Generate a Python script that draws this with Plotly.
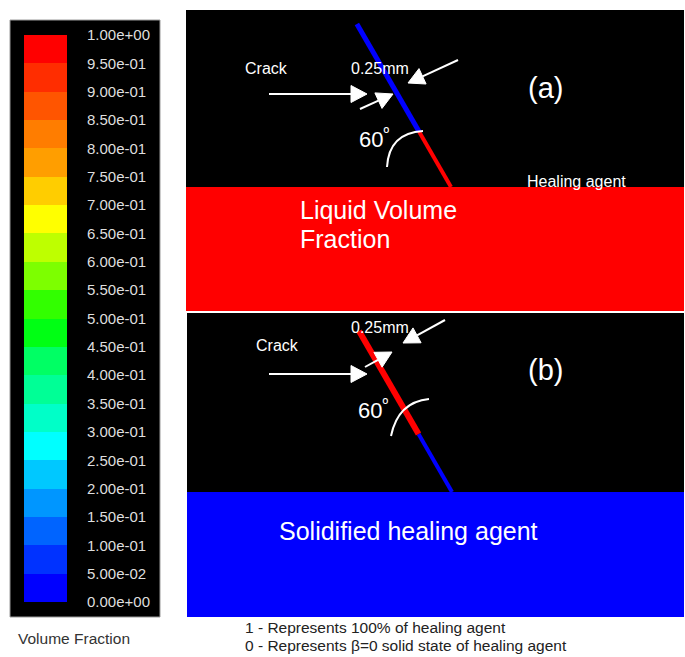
import math
import plotly.graph_objects as go

W, H = 685, 657
FONT = "Liberation Sans, Arial, sans-serif"

# ---- data -------------------------------------------------------------
# contour levels of the volume-fraction legend (bottom -> top)
levels = [0.00, 0.05, 0.10, 0.15, 0.20, 0.25, 0.30, 0.35, 0.40, 0.45, 0.50,
          0.55, 0.60, 0.65, 0.70, 0.75, 0.80, 0.85, 0.90, 0.95, 1.00]
tick_labels = ["0.00e+00", "5.00e-02", "1.00e-01", "1.50e-01", "2.00e-01",
               "2.50e-01", "3.00e-01", "3.50e-01", "4.00e-01", "4.50e-01",
               "5.00e-01", "5.50e-01", "6.00e-01", "6.50e-01", "7.00e-01",
               "7.50e-01", "8.00e-01", "8.50e-01", "9.00e-01", "9.50e-01",
               "1.00e+00"]
band_colors = ["rgb(0,0,255)", "rgb(0,50,255)", "rgb(0,100,255)", "rgb(0,150,255)",
               "rgb(0,200,255)", "rgb(0,255,255)", "rgb(0,255,200)", "rgb(0,255,150)",
               "rgb(0,255,100)", "rgb(0,255,20)", "rgb(50,255,0)", "rgb(125,255,0)",
               "rgb(190,255,0)", "rgb(255,255,0)", "rgb(255,205,0)", "rgb(255,158,0)",
               "rgb(255,125,0)", "rgb(255,85,0)", "rgb(255,45,0)", "rgb(255,0,0)"]

# two states of the crack: (a) liquid healing agent, (b) solidified
panel_labels = ["(a)", "(b)"]
pool_fraction = [1.0, 0.0]          # volume fraction in the reservoir
crack_lower_fraction = [1.0, 0.0]   # lower part of the crack
crack_upper_fraction = [0.0, 1.0]   # upper part of the crack
crack_fill_height = [0.34, 0.36]    # share of crack height taken by the lower part
crack_angle_deg = 60
crack_width_text = "0.25mm"


def color_of(v):
    i = min(int(v * 20 + 1e-9), 19)
    return band_colors[i]


# ---- layout geometry (pixels) ----------------------------------------
panels = [
    dict(left=186, right=684, top=10, interface=187, bottom=311,
         base_x=451, crack_top=24, widths=(4, 5),
         arc="M 387,167 Q 389,133 423,131", angle_xy=(374, 138),
         label_xy=(545, 88)),
    dict(left=187, right=684, top=313, interface=492, bottom=617,
         base_x=452, crack_top=331, widths=(4, 6),
         arc="M 391,436 Q 398,402 429,399", angle_xy=(373, 409),
         label_xy=(545, 370)),
]

fig = go.Figure()
shapes = []
annotations = []

# colour legend box
shapes.append(dict(type="rect", xref="x", yref="y", x0=10, x1=160, y0=20, y1=617,
                   fillcolor="black", line=dict(color="#9a9a9a", width=1), layer="below"))

# legend bands through a heatmap on its own axes
cs = []
for k, c in enumerate(band_colors):
    cs.append([k / 20, c])
    cs.append([(k + 1) / 20, c])
fig.add_trace(go.Heatmap(
    z=[[k] for k in range(len(band_colors))], x=[0, 1], y=levels,
    zmin=-0.5, zmax=19.5, colorscale=cs, showscale=False,
    xaxis="x2", yaxis="y2", hoverinfo="skip"))

for i, p in enumerate(panels):
    # background and reservoir
    shapes.append(dict(type="rect", xref="x", yref="y", x0=p["left"], x1=p["right"],
                       y0=p["top"], y1=p["interface"], fillcolor="black",
                       line=dict(width=0), layer="below"))
    shapes.append(dict(type="rect", xref="x", yref="y", x0=p["left"], x1=p["right"],
                       y0=p["interface"], y1=p["bottom"], fillcolor=color_of(pool_fraction[i]),
                       line=dict(width=0), layer="below"))

    # inclined crack
    h = p["interface"] - p["crack_top"]
    run = h / math.tan(math.radians(crack_angle_deg))
    bx, by = p["base_x"], p["interface"]
    hf = crack_fill_height[i] * h
    jx, jy = bx - hf / math.tan(math.radians(crack_angle_deg)), by - hf
    tx, ty = bx - run, by - h
    fig.add_trace(go.Scatter(x=[bx, jx], y=[by, jy], mode="lines",
                             line=dict(color=color_of(crack_lower_fraction[i]), width=p["widths"][0]),
                             hoverinfo="skip", showlegend=False))
    fig.add_trace(go.Scatter(x=[jx, tx], y=[jy, ty], mode="lines",
                             line=dict(color=color_of(crack_upper_fraction[i]), width=p["widths"][1]),
                             hoverinfo="skip", showlegend=False))

    # angle arc
    shapes.append(dict(type="path", xref="x", yref="y", path=p["arc"],
                       line=dict(color="white", width=2)))
    annotations.append(dict(x=p["angle_xy"][0], y=p["angle_xy"][1], xref="x", yref="y",
                            text=f"{crack_angle_deg}<sup>º</sup>", showarrow=False,
                            font=dict(family=FONT, size=22, color="white")))
    annotations.append(dict(x=p["label_xy"][0], y=p["label_xy"][1], xref="x", yref="y",
                            text=panel_labels[i], showarrow=False,
                            font=dict(family=FONT, size=29, color="white")))

# crack pointers: shaft + triangular head
arrows = [
    ((269, 94), (367, 94)), ((360, 109), (393, 94)), ((458, 60), (408, 83)),
    ((269, 374), (367, 374)), ((365, 367), (392, 352)), ((445, 320), (403, 343)),
]
HEAD_LEN, HEAD_HALF = 16, 8.5
for (ax, ay), (x, y) in arrows:
    L = math.hypot(x - ax, y - ay)
    ux, uy = (x - ax) / L, (y - ay) / L
    bxh, byh = x - ux * HEAD_LEN, y - uy * HEAD_LEN
    shapes.append(dict(type="line", xref="x", yref="y", x0=ax, y0=ay, x1=bxh, y1=byh,
                       line=dict(color="white", width=2)))
    p1 = (bxh - uy * HEAD_HALF, byh + ux * HEAD_HALF)
    p2 = (bxh + uy * HEAD_HALF, byh - ux * HEAD_HALF)
    shapes.append(dict(type="path", xref="x", yref="y",
                       path=f"M {x:.1f},{y:.1f} L {p1[0]:.1f},{p1[1]:.1f} L {p2[0]:.1f},{p2[1]:.1f} Z",
                       fillcolor="white", line=dict(color="white", width=1)))

texts = [
    ("Crack", 243, 68, 16, "white"),
    (crack_width_text, 349, 68, 16, "white"),
    ("Healing agent", 525, 181, 16, "white"),
    ("Liquid Volume", 298, 210, 25, "white"),
    ("Fraction", 298, 239, 25, "white"),
    ("Crack", 254, 345, 16, "white"),
    (crack_width_text, 349, 327, 16, "white"),
    ("Solidified healing agent", 277, 531, 25, "white"),
    ("1 - Represents 100% of healing agent", 243, 627, 15.5, "#222222"),
    ("0 - Represents β=0 solid state of healing agent", 243, 645, 15.5, "#222222"),
    ("Volume Fraction", 16, 638, 15.5, "#333333"),
]
for t, x, y, s, c in texts:
    annotations.append(dict(x=x, y=y, xref="x", yref="y", text=t, showarrow=False,
                            xanchor="left", yanchor="middle",
                            font=dict(family=FONT, size=s, color=c)))

fig.update_layout(
    width=W, height=H, margin=dict(l=0, r=0, t=0, b=0, pad=0, autoexpand=False),
    paper_bgcolor="white", plot_bgcolor="rgba(0,0,0,0)", showlegend=False,
    xaxis=dict(range=[0, W], domain=[0, 1], visible=False, fixedrange=True),
    yaxis=dict(range=[H, 0], domain=[0, 1], visible=False, fixedrange=True),
    xaxis2=dict(range=[0, 1], domain=[24 / W, 67 / W], visible=False, anchor="y2"),
    yaxis2=dict(range=[0, 1], domain=[1 - 602 / H, 1 - 35 / H], anchor="x2", side="right",
                tickmode="array", tickvals=levels, ticktext=tick_labels,
                ticks="outside", ticklen=16, tickcolor="rgba(0,0,0,0)",
                showgrid=False, zeroline=False, showline=False, automargin=False,
                tickfont=dict(family=FONT, size=15, color="#dedede")),
    shapes=shapes, annotations=annotations,
)

fig.write_html("out.html")
